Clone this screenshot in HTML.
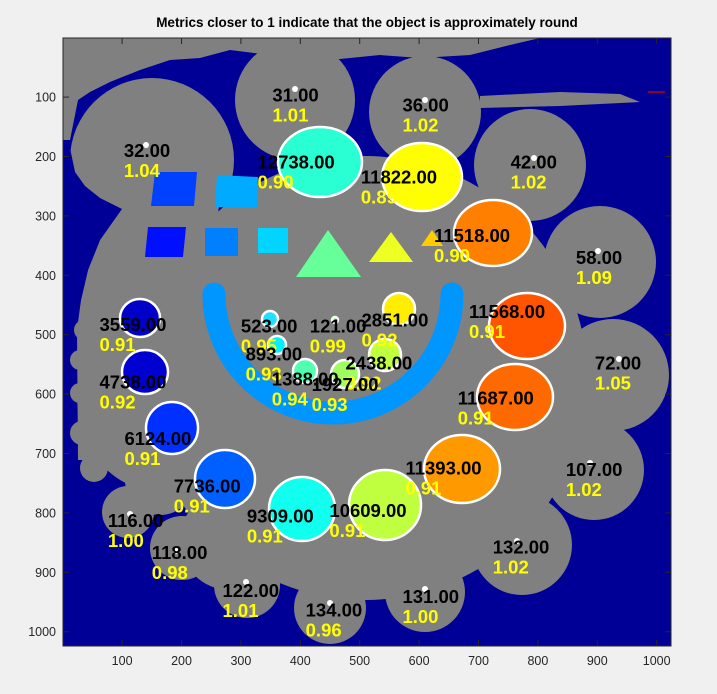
<!DOCTYPE html>
<html><head><meta charset="utf-8"><style>
body{margin:0;background:#f0f0f0;width:717px;height:694px;overflow:hidden;font-family:"Liberation Sans",sans-serif}
svg{position:absolute;left:0;top:0}
</style></head><body>
<svg id="chart" width="717" height="694" xmlns="http://www.w3.org/2000/svg">
<text x="367" y="27" text-anchor="middle" font-size="13.5" font-weight="bold" fill="#000">Metrics closer to 1 indicate that the object is approximately round</text>
<defs><clipPath id="clip"><rect x="63" y="38" width="608" height="608"/></clipPath></defs>
<g clip-path="url(#clip)">
<rect x="63" y="38" width="608" height="608" fill="#000096"/>
<g fill="#808080">
<polygon points="63,38 540,38 510,45 470,55 420,58 380,55 330,60 270,55 230,50 200,58 170,60 140,70 110,82 90,92 78,100 70,140 63,140"/>
<polygon points="480,96 560,92 620,94 640,102 600,104 560,106 480,108"/>
<circle cx="152" cy="160" r="82"/>
<polygon points="122,208 100,240 88,270 81,300 77,330 78,460 180,460 220,200"/>
<circle cx="295" cy="100" r="60"/>
<circle cx="425" cy="112" r="56"/>
<circle cx="530" cy="165" r="56"/>
<circle cx="600" cy="262" r="56"/>
<circle cx="613" cy="375" r="56"/>
<circle cx="594" cy="470" r="50"/>
<circle cx="522" cy="545" r="50"/>
<circle cx="425" cy="592" r="40"/>
<circle cx="330" cy="608" r="36"/>
<circle cx="247" cy="585" r="33"/>
<circle cx="182" cy="548" r="32"/>
<circle cx="128" cy="512" r="26"/>
<circle cx="365" cy="378" r="222"/>
<ellipse cx="155" cy="395" rx="78" ry="95"/>
<circle cx="84" cy="330" r="10"/><circle cx="80" cy="360" r="10"/><circle cx="80" cy="393" r="10"/><circle cx="82" cy="433" r="12"/><circle cx="94" cy="468" r="14"/>
<circle cx="160" cy="480" r="35"/>
<circle cx="230" cy="540" r="50"/>
</g>
<polygon fill="#000096" points="63,140 70,148 75,172 85,186 100,198 122,209 100,240 88,270 81,300 77,322 63,322"/>
<g>
<polygon points="155,172 197,172 194,206 151,206" fill="#0040ff"/>
<polygon points="217,175 258,177 257,208 215,207" fill="#00aaff"/>
<polygon points="148,227 186,227 183,257 145,257" fill="#0010ff"/>
<rect x="205" y="228" width="33" height="28" fill="#0080ff"/>
<rect x="258" y="228" width="30" height="25" fill="#00d4ff"/>
</g>
<g>
<polygon points="296,277 361,277 328,230" fill="#66ff99"/>
<polygon points="369,262 413,262 391,232" fill="#eeff22"/>
<polygon points="421,246 443,246 432,230" fill="#ffcc00"/>
</g>
<path d="M214,294 A119,119 0 1 0 452,294" fill="none" stroke="#0096ff" stroke-width="23" stroke-linecap="round"/>
<g stroke="#fff" stroke-width="2.5">
<ellipse cx="320" cy="162" rx="42" ry="35" fill="#2affd4"/>
<ellipse cx="422" cy="177" rx="40" ry="34" fill="#ffff00"/>
<ellipse cx="493" cy="233" rx="39" ry="33" fill="#ff8000"/>
<ellipse cx="527" cy="326" rx="38" ry="33" fill="#ff5500"/>
<ellipse cx="515" cy="397" rx="38" ry="33" fill="#ff6a00"/>
<ellipse cx="462" cy="469" rx="38" ry="34" fill="#ff9900"/>
<ellipse cx="385" cy="505" rx="36" ry="35" fill="#c0ff3f"/>
<ellipse cx="302" cy="509" rx="33" ry="32" fill="#10ffef"/>
<ellipse cx="225" cy="479" rx="30" ry="29" fill="#0060ff"/>
<ellipse cx="172" cy="428" rx="26" ry="26" fill="#0030ff"/>
<ellipse cx="145" cy="372" rx="23" ry="22" fill="#0000d0"/>
<ellipse cx="140" cy="318" rx="20" ry="19" fill="#0000c8"/>
<circle cx="270" cy="319" r="8" fill="#20e0ff"/>
<circle cx="277" cy="345" r="9" fill="#00f0ff"/>
<circle cx="305" cy="371" r="12" fill="#50ffb0"/>
<circle cx="345" cy="374" r="14" fill="#a0ff60"/>
<circle cx="385" cy="355" r="16" fill="#c0ff40"/>
<circle cx="399" cy="309" r="16" fill="#ffee00"/>
<circle cx="335" cy="320" r="3" fill="#90ff70"/>
</g>
<g fill="#fff">
<circle cx="295" cy="89" r="3"/><circle cx="425" cy="100" r="3"/><circle cx="146" cy="145" r="3"/>
<circle cx="534" cy="158" r="3"/><circle cx="598" cy="251" r="3"/><circle cx="619" cy="359" r="3"/>
<circle cx="590" cy="463" r="3"/><circle cx="517" cy="541" r="3"/><circle cx="425" cy="589" r="3"/>
<circle cx="330" cy="603" r="3"/><circle cx="246" cy="582" r="3"/><circle cx="176" cy="551" r="3"/><circle cx="130" cy="514" r="3"/>
</g>
<line x1="648" y1="92" x2="665" y2="92" stroke="#c00000" stroke-width="1.5"/>
</g>
<g id="labels"></g>
<rect x="63" y="38" width="608" height="608" fill="none" stroke="#262626" stroke-width="1"/>
<g id="ticks"></g>
</svg>
<script>
const xTicks=[100,200,300,400,500,600,700,800,900,1000];
const yTicks=[100,200,300,400,500,600,700,800,900,1000];
const areas=["31.00","36.00","32.00","12738.00","11822.00","42.00","11518.00","58.00","3559.00","523.00","121.00","2851.00","11568.00","893.00","2438.00","1388.00","1927.00","4738.00","72.00","11687.00","6124.00","107.00","11393.00","7736.00","116.00","9309.00","10609.00","132.00","118.00","122.00","131.00","134.00"];
const metrics=["1.01","1.02","1.04","0.90","0.89","1.02","0.90","1.09","0.91","0.95","0.99","0.92","0.91","0.93","0.92","0.94","0.93","0.92","1.05","0.91","0.91","1.02","0.91","0.91","1.00","0.91","0.91","1.02","0.98","1.01","1.00","0.96"];
const labelX=[353,572,103,328,502,754,625,864,62,300,416,503,684,308,476,352,419,62,896,665,104,847,577,187,76,310,449,724,150,269,572,409];
const labelY=[84,101,177,197,222,197,320,357,470,473,473,463,448,520,535,562,571,567,535,594,662,714,712,742,800,793,783,845,854,918,928,951];
const X0=63,Y0=38,S=0.594;
function xs(v){return X0+(v-0.5)*S;}
function ys(v){return Y0+(v-0.5)*S;}
const NS="http://www.w3.org/2000/svg";
const lg=document.getElementById('labels');
for(let i=0;i<areas.length;i++){
  const t=document.createElementNS(NS,'text');
  
  
  t.setAttribute('x',xs(labelX[i]));t.setAttribute('y',ys(labelY[i])+14);
  t.setAttribute('font-size','18.5');t.setAttribute('font-weight','bold');t.setAttribute('fill','#000');
  t.textContent=areas[i];lg.appendChild(t);
  const m=document.createElementNS(NS,'text');
  
  
  m.setAttribute('x',xs(labelX[i]));m.setAttribute('y',ys(labelY[i])+34);
  m.setAttribute('font-size','18.5');m.setAttribute('font-weight','bold');m.setAttribute('fill','#ffff00');
  m.textContent=metrics[i];lg.appendChild(m);
}
const tg=document.getElementById('ticks');
function ln(x1,y1,x2,y2){const l=document.createElementNS(NS,'line');
  
  
  l.setAttribute('x1',x1);l.setAttribute('y1',y1);l.setAttribute('x2',x2);l.setAttribute('y2',y2);
  l.setAttribute('stroke','#262626');tg.appendChild(l);}
xTicks.forEach(v=>{const x=xs(v);ln(x,646,x,640);ln(x,38,x,44);
  const t=document.createElementNS(NS,'text');
  
  
  t.setAttribute('x',x);t.setAttribute('y',665);t.setAttribute('text-anchor','middle');
  t.setAttribute('font-size','12.5');t.setAttribute('fill','#262626');t.textContent=v;tg.appendChild(t);});
yTicks.forEach(v=>{const y=ys(v);ln(63,y,69,y);ln(671,y,665,y);
  const t=document.createElementNS(NS,'text');
  
  
  t.setAttribute('x',56);t.setAttribute('y',y+4.5);t.setAttribute('text-anchor','end');
  t.setAttribute('font-size','12.5');t.setAttribute('fill','#262626');t.textContent=v;tg.appendChild(t);});
</script>
</body></html>
